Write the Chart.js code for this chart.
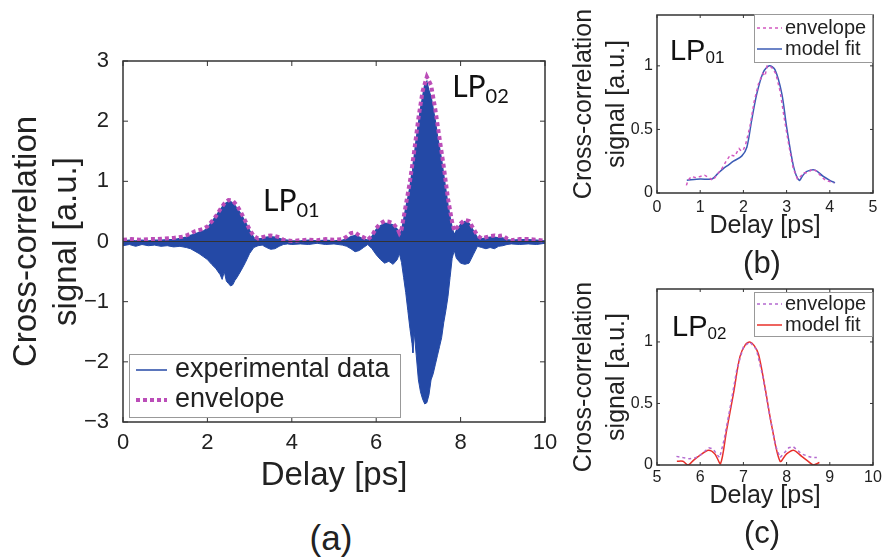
<!DOCTYPE html>
<html>
<head>
<meta charset="utf-8">
<script src="https://cdn.jsdelivr.net/npm/chart.js@4.4.1/dist/chart.umd.min.js"></script>
<style>
  html, body { margin: 0; padding: 0; background: #fff; }
  body { width: 885px; height: 560px; position: relative; overflow: hidden; font-family: 'Liberation Sans', Arial, sans-serif; }
  .box { position: absolute; }
  .cap { position: absolute; transform: translate(-50%, -50%); line-height: 1; color: #222; }
</style>
</head>
<body>
<div class="box" style="left:0;top:0;width:560px;height:500px"><canvas id="chartA"></canvas></div>
<div class="box" style="left:560px;top:0;width:325px;height:280px"><canvas id="chartB"></canvas></div>
<div class="box" style="left:560px;top:280px;width:325px;height:280px"><canvas id="chartC"></canvas></div>
<div class="cap" style="left:331px;top:537px;font-size:35px">(a)</div>
<div class="cap" style="left:762px;top:262px;font-size:31px">(b)</div>
<div class="cap" style="left:762px;top:532px;font-size:31px">(c)</div>
<script>
// (a) experimental data: upper and lower extent of the fast oscillation
const aDelay = [0, 0.15, 0.3, 0.45, 0.6, 0.75, 0.9, 1.05, 1.2, 1.35,
    1.5, 1.6, 1.7, 1.8, 1.9, 2.0, 2.1, 2.2, 2.3, 2.35, 2.4, 2.45, 2.5, 2.55, 2.6, 2.65, 2.7,
    2.8, 2.9, 3.0, 3.1, 3.2, 3.3, 3.4, 3.5, 3.6, 3.7, 3.8, 3.9, 4.0,
    4.2, 4.4, 4.6, 4.8, 5.0, 5.2, 5.3, 5.4, 5.5, 5.6, 5.7, 5.8, 5.9,
    6.0, 6.1, 6.2, 6.3, 6.4, 6.5, 6.55,
    6.6, 6.65, 6.7, 6.75, 6.8, 6.85, 6.87, 6.9, 6.95, 7.0, 7.05, 7.1, 7.15, 7.2, 7.25, 7.3, 7.35, 7.4, 7.45, 7.5, 7.55, 7.6, 7.65, 7.7, 7.75, 7.8, 7.85,
    7.9, 8.0, 8.1, 8.2, 8.3, 8.4, 8.5, 8.6, 8.7, 8.8, 8.9, 9.0, 9.1, 9.2, 9.4, 9.6, 9.8, 10];
const aUpper = [0.01, 0.02, 0.01, 0.02, 0.01, 0.02, 0.02, 0.03, 0.03, 0.05,
    0.07, 0.1, 0.12, 0.15, 0.17, 0.22, 0.32, 0.42, 0.52, 0.57, 0.62, 0.64, 0.66, 0.66, 0.64, 0.6, 0.55,
    0.45, 0.32, 0.18, 0.06, 0.04, 0.05, 0.07, 0.08, 0.07, 0.05, 0.03, 0.02, 0.01,
    0.01, 0.02, 0.01, 0.02, 0.01, 0.02, 0.04, 0.08, 0.1, 0.07, 0.04, 0.02, 0.08,
    0.2, 0.26, 0.3, 0.3, 0.27, 0.2, 0.12,
    0.18, 0.35, 0.55, 0.72, 0.9, 1.15, 1.25, 1.4, 1.7, 1.95, 2.2, 2.4, 2.6, 2.66, 2.5, 2.4, 2.2, 2.0, 1.75, 1.55, 1.35, 1.1, 0.85, 0.6, 0.4, 0.22, 0.1,
    0.18, 0.28, 0.33, 0.3, 0.18, 0.06, 0.04, 0.06, 0.07, 0.07, 0.06, 0.06, 0.03, 0.02, 0.03, 0.03, 0.02, 0.01];
const aLower = [-0.07, -0.05, -0.08, -0.05, -0.07, -0.06, -0.08, -0.07, -0.09, -0.08,
    -0.1, -0.12, -0.16, -0.2, -0.25, -0.3, -0.38, -0.45, -0.55, -0.63, -0.5, -0.66, -0.7, -0.74, -0.72, -0.65, -0.6,
    -0.48, -0.35, -0.2, -0.1, -0.07, -0.06, -0.1, -0.13, -0.12, -0.08, -0.05, -0.04, -0.05,
    -0.04, -0.05, -0.03, -0.05, -0.04, -0.06, -0.08, -0.12, -0.17, -0.15, -0.1, -0.05, -0.12,
    -0.22, -0.3, -0.36, -0.33, -0.38, -0.3, -0.2,
    -0.35, -0.6, -0.85, -1.15, -1.45, -1.7, -1.85, -1.5, -1.9, -2.3, -2.5, -2.62, -2.7, -2.68, -2.55, -2.3, -2.2, -2.05, -1.9, -1.75, -1.6, -1.35, -1.15, -0.92, -0.6, -0.28, -0.15,
    -0.28, -0.36, -0.38, -0.36, -0.22, -0.08, -0.1, -0.12, -0.1, -0.12, -0.08, -0.07, -0.05, -0.04, -0.05, -0.04, -0.05, -0.03];

// (a) envelope
const aEnvDelay = [0, 0.2, 0.4, 0.6, 0.8, 1.0, 1.2, 1.4, 1.5, 1.6, 1.7, 1.8, 1.9, 2.0,
    2.1, 2.2, 2.3, 2.4, 2.5, 2.6, 2.7, 2.8, 2.9, 3.0, 3.1, 3.2, 3.3, 3.4, 3.5, 3.6, 3.7, 3.8,
    4.0, 4.2, 4.4, 4.6, 4.8, 5.0, 5.2, 5.3, 5.4, 5.5, 5.6, 5.7, 5.8, 5.9,
    6.0, 6.1, 6.2, 6.3, 6.4, 6.5, 6.55,
    6.6, 6.65, 6.7, 6.8, 6.9, 7.0, 7.1, 7.2, 7.3, 7.4, 7.5, 7.6, 7.7, 7.8, 7.85,
    7.9, 8.0, 8.1, 8.2, 8.3, 8.4, 8.5, 8.6, 8.7, 8.8, 8.9, 9.0, 9.1, 9.2, 9.4, 9.6, 9.8, 10];
const aEnvelope = [0.03, 0.04, 0.03, 0.04, 0.04, 0.05, 0.06, 0.08, 0.1, 0.13, 0.17, 0.19, 0.21, 0.25,
    0.33, 0.42, 0.53, 0.63, 0.69, 0.68, 0.6, 0.48, 0.34, 0.2, 0.09, 0.05, 0.07, 0.09, 0.1, 0.09, 0.07, 0.03,
    0.01, 0.02, 0.03, 0.02, 0.04, 0.03, 0.04, 0.08, 0.14, 0.15, 0.1, 0.07, 0.03, 0.1,
    0.22, 0.3, 0.34, 0.33, 0.3, 0.22, 0.14,
    0.2, 0.4, 0.6, 1.0, 1.5, 2.05, 2.5, 2.74, 2.6, 2.2, 1.72, 1.25, 0.72, 0.32, 0.18,
    0.22, 0.3, 0.36, 0.34, 0.22, 0.1, 0.05, 0.07, 0.09, 0.1, 0.09, 0.1, 0.05, 0.02, 0.04, 0.04, 0.03, 0.01];

// (b) LP01 normalised
const bEnvDelay = [0.68, 0.72, 0.8, 0.9, 1.0, 1.1, 1.2, 1.3, 1.4, 1.5,
    1.6, 1.7, 1.8, 1.9, 1.95, 2.0, 2.05, 2.15, 2.25, 2.35,
    2.45, 2.5, 2.55, 2.65, 2.75, 2.85, 2.95, 3.05, 3.15, 3.25,
    3.3, 3.4, 3.5, 3.6, 3.7, 3.8, 3.9, 4.0, 4.1];
const bEnvelope = [0.06, 0.1, 0.13, 0.12, 0.13, 0.14, 0.12, 0.1, 0.15, 0.19,
    0.25, 0.3, 0.29, 0.35, 0.33, 0.34, 0.38, 0.52, 0.72, 0.86,
    0.94, 0.92, 1.0, 0.99, 0.94, 0.8, 0.58, 0.38, 0.2, 0.11,
    0.12, 0.16, 0.16, 0.19, 0.17, 0.13, 0.1, 0.09, 0.08];
const bFitDelay = [0.69, 1.0, 1.27, 1.4, 1.53, 1.65, 1.77, 1.96, 2.08, 2.19,
    2.31, 2.46, 2.6, 2.73, 2.89, 3.0, 3.16, 3.29, 3.38, 3.47,
    3.66, 3.85, 4.0, 4.12];
const bFit = [0.10, 0.11, 0.11, 0.15, 0.19, 0.22, 0.25, 0.29, 0.36, 0.57,
    0.78, 0.95, 1.0, 0.97, 0.78, 0.52, 0.21, 0.10, 0.14, 0.17,
    0.18, 0.13, 0.1, 0.08];

// (c) LP02 normalised
const cEnvDelay = [5.45, 5.6, 5.75, 5.9, 6.0, 6.1, 6.2, 6.3, 6.4, 6.45,
    6.55, 6.7, 6.85, 7.0, 7.15, 7.3, 7.45, 7.6, 7.75, 7.85,
    7.95, 8.05, 8.15, 8.25, 8.35, 8.5, 8.6, 8.7];
const cEnvelope = [0.07, 0.06, 0.05, 0.06, 0.08, 0.11, 0.14, 0.13, 0.08, 0.06,
    0.2, 0.48, 0.78, 0.96, 1.0, 0.94, 0.72, 0.42, 0.15, 0.06,
    0.1, 0.14, 0.15, 0.12, 0.09, 0.07, 0.06, 0.06];
const cFitDelay = [5.46, 5.6, 5.72, 5.85, 6.0, 6.19, 6.34, 6.47, 6.61, 6.77,
    6.92, 7.05, 7.15, 7.25, 7.35, 7.5, 7.66, 7.85, 8.0, 8.16,
    8.35, 8.5, 8.62, 8.76];
const cFit = [0.03, 0.03, 0.0, 0.04, 0.08, 0.12, 0.09, 0.01, 0.28, 0.58,
    0.88, 0.98, 1.0, 0.97, 0.9, 0.63, 0.31, 0.03, 0.09, 0.12,
    0.07, 0.03, 0.0, 0.02];

const bcYTicks = [0, 0.5, 1];

const FONT = "'Liberation Sans', Arial, sans-serif";
const TEXT = '#222';
const BLUE = '#2449a6';
const MAGENTA = '#bb4db8';

Chart.defaults.font.family = FONT;
Chart.defaults.color = TEXT;
Chart.defaults.animation = false;

function pts(xs, ys) {
    return xs.map((x, i) => ({ x: x, y: ys[i] }));
}

function fmt(v) {
    return v < 0 ? '\u2212' + Math.abs(v) : String(v);
}

// matlab style box with inward ticks on all sides
const boxFrame = {
    id: 'boxFrame',
    afterDatasetsDraw(chart, args, o) {
        const { ctx, chartArea: a, scales: { x, y } } = chart;
        ctx.save();
        ctx.strokeStyle = '#333';
        if (o.zeroLine) {
            const py = y.getPixelForValue(0);
            ctx.lineWidth = 1;
            ctx.beginPath();
            ctx.moveTo(a.left, py);
            ctx.lineTo(a.right, py);
            ctx.stroke();
        }
        ctx.lineWidth = o.lineWidth;
        ctx.strokeRect(a.left, a.top, a.width, a.height);
        ctx.lineWidth = 1;
        ctx.beginPath();
        x.ticks.forEach(t => {
            const px = x.getPixelForValue(t.value);
            ctx.moveTo(px, a.bottom); ctx.lineTo(px, a.bottom - o.tick);
            ctx.moveTo(px, a.top); ctx.lineTo(px, a.top + o.tick);
        });
        y.ticks.forEach(t => {
            const py = y.getPixelForValue(t.value);
            ctx.moveTo(a.left, py); ctx.lineTo(a.left + o.tick, py);
            ctx.moveTo(a.right, py); ctx.lineTo(a.right - o.tick, py);
        });
        ctx.stroke();
        ctx.restore();
    }
};

// legend box drawn inside the plot area
const boxLegend = {
    id: 'boxLegend',
    afterDraw(chart, args, o) {
        const { ctx, chartArea: a } = chart;
        const items = chart.data.datasets.filter(d => d.label);
        const left = o.right !== undefined ? a.right - o.right - o.width : a.left + o.left;
        const top = o.bottom !== undefined ? a.bottom - o.bottom - o.height : a.top + o.top;
        ctx.save();
        ctx.fillStyle = '#fff';
        ctx.fillRect(left, top, o.width, o.height);
        ctx.strokeStyle = '#999';
        ctx.lineWidth = 1;
        ctx.strokeRect(left + 0.5, top + 0.5, o.width, o.height);
        items.forEach((d, i) => {
            const ry = top + o.firstRow + i * o.rowGap;
            ctx.strokeStyle = d.borderColor;
            ctx.lineWidth = d.borderWidth;
            ctx.setLineDash(d.borderDash || []);
            ctx.beginPath();
            ctx.moveTo(left + o.lineStart, ry);
            ctx.lineTo(left + o.lineStart + o.lineLen, ry);
            ctx.stroke();
            ctx.setLineDash([]);
            ctx.fillStyle = TEXT;
            ctx.font = o.size + 'px ' + FONT;
            ctx.textBaseline = 'middle';
            ctx.fillText(d.label, left + o.textStart, ry);
        });
        ctx.restore();
    }
};

// LP mode labels with subscript, placed in data coordinates
const modeLabels = {
    id: 'modeLabels',
    afterDraw(chart, args, o) {
        const { ctx, scales: { x, y } } = chart;
        ctx.save();
        ctx.fillStyle = '#111';
        ctx.textBaseline = 'alphabetic';
        o.items.forEach(it => {
            const px = x.getPixelForValue(it.x);
            const py = y.getPixelForValue(it.y);
            ctx.font = o.size + 'px ' + o.family;
            ctx.fillText(it.main, px, py);
            const w = ctx.measureText(it.main).width;
            ctx.font = o.subSize + 'px ' + o.family;
            ctx.fillText(it.sub, px + w, py + o.subDrop);
        });
        ctx.restore();
    }
};

function axisX(min, max, step, cfg) {
    return {
        type: 'linear', min: min, max: max,
        grid: { display: false, drawTicks: false },
        border: { display: false },
        ticks: { stepSize: step, padding: cfg.tickPad, font: { size: cfg.tickSize }, maxRotation: 0, callback: fmt },
        title: { display: true, text: 'Delay [ps]', font: { size: cfg.titleSize }, padding: { top: 0, bottom: cfg.titlePad } },
        afterFit: s => { s.height = cfg.height; s.paddingLeft = 0; s.paddingRight = 0; }
    };
}

function axisY(min, max, step, cfg) {
    return {
        min: min, max: max,
        grid: { display: false, drawTicks: false },
        border: { display: false },
        ticks: { stepSize: step, padding: cfg.tickPad, font: { size: cfg.tickSize }, callback: fmt },
        afterBuildTicks: cfg.fixed ? s => { s.ticks = cfg.fixed.map(v => ({ value: v })); } : undefined,
        title: {
            display: true, text: ['Cross-correlation', 'signal [a.u.]'],
            font: { size: cfg.titleSize, lineHeight: cfg.titleLh }, padding: { top: cfg.titlePad, bottom: 0 }
        },
        afterFit: s => { s.width = cfg.width; s.paddingTop = 0; s.paddingBottom = 0; }
    };
}

new Chart(document.getElementById('chartA'), {
    type: 'line',
    data: {
        datasets: [
            {
                label: 'experimental data', data: pts(aDelay, aUpper),
                borderColor: BLUE, borderWidth: 1.5, pointRadius: 0, fill: false
            },
            {
                data: pts(aDelay, aLower),
                borderColor: BLUE, backgroundColor: BLUE, borderWidth: 1, pointRadius: 0, fill: '-1'
            },
            {
                label: 'envelope', data: pts(aEnvDelay, aEnvelope), order: -1,
                borderColor: MAGENTA, borderWidth: 4, borderDash: [4, 3], pointRadius: 0, fill: false
            }
        ]
    },
    options: {
        responsive: true, maintainAspectRatio: false,
        layout: { padding: { left: 0, top: 61, right: 15, bottom: 0 } },
        scales: {
            x: axisX(0, 10, 2, { tickPad: 8, tickSize: 22, titleSize: 33, titlePad: 4, height: 78 }),
            y: axisY(-3, 3, 1, { tickPad: 14, tickSize: 22, titleSize: 33, titleLh: 1.21, titlePad: 7, width: 123 })
        },
        plugins: {
            legend: { display: false },
            tooltip: { enabled: false },
            boxFrame: { tick: 5, lineWidth: 1.5, zeroLine: true },
            boxLegend: { left: 6, bottom: 5, width: 271, height: 63, firstRow: 16, rowGap: 30, lineStart: 7, lineLen: 31, textStart: 46, size: 27 },
            modeLabels: {
                family: "Lato, 'Open Sans', sans-serif", size: 30, subSize: 20, subDrop: 6,
                items: [{ x: 3.32, y: 0.51, main: 'LP', sub: '01' }, { x: 7.8, y: 2.4, main: 'LP', sub: '02' }]
            }
        }
    },
    plugins: [boxFrame, boxLegend, modeLabels]
});

function smallChart(id, envX, envY, fitX, fitY, fitColor, envColor, xmin, xmax, ymax, cfg) {
    return new Chart(document.getElementById(id), {
        type: 'line',
        data: {
            datasets: [
                {
                    label: 'envelope', data: pts(envX, envY),
                    borderColor: envColor, borderWidth: 1.5, borderDash: [3, 3], pointRadius: 0, fill: false
                },
                {
                    label: 'model fit', data: pts(fitX, fitY),
                    borderColor: fitColor, borderWidth: 1.5, pointRadius: 0, fill: false, tension: 0.3
                }
            ]
        },
        options: {
            responsive: true, maintainAspectRatio: false,
            layout: { padding: { left: 0, top: cfg.top, right: 12, bottom: 0 } },
            scales: {
                x: axisX(xmin, xmax, 1, { tickPad: cfg.xTickPad, tickSize: 16, titleSize: 25, titlePad: cfg.xTitlePad, height: cfg.xHeight }),
                y: axisY(0, ymax, 0.5, { tickPad: 4, tickSize: 16, titleSize: 25, titleLh: 1.32, titlePad: 8, width: 97, fixed: bcYTicks })
            },
            plugins: {
                legend: { display: false },
                tooltip: { enabled: false },
                boxFrame: { tick: 3, lineWidth: 1.5, zeroLine: false },
                boxLegend: { right: 1, top: cfg.legTop, width: 118, height: cfg.legH, firstRow: cfg.row1, rowGap: 21, lineStart: 3, lineLen: 25, textStart: 31, size: 20 },
                modeLabels: {
                    family: FONT, size: 29, subSize: 17, subDrop: 3,
                    items: [{ x: cfg.lpX, y: 1.05, main: 'LP', sub: cfg.sub }]
                }
            }
        },
        plugins: [boxFrame, boxLegend, modeLabels]
    });
}

smallChart('chartB', bEnvDelay, bEnvelope, bFitDelay, bFit, '#3b5bb5', '#d258c0', 0, 5, 1.4,
    { top: 15, xHeight: 87, xTickPad: 5, xTitlePad: 39, legTop: -1, legH: 48, row1: 14, lpX: 0.3, sub: '01' });
smallChart('chartC', cEnvDelay, cEnvelope, cFitDelay, cFit, '#e8302a', '#b46ad0', 5, 10, 1.43,
    { top: 9, xHeight: 95, xTickPad: 3, xTitlePad: 49, legTop: 3, legH: 44, row1: 12, lpX: 5.35, sub: '02' });
</script>
</body>
</html>
